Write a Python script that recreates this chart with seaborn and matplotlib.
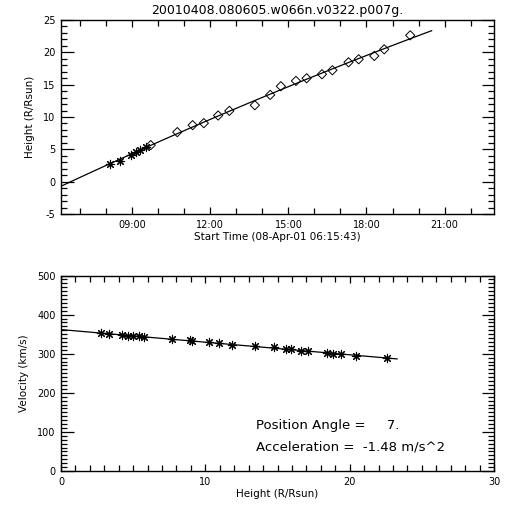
import numpy as np
import pandas as pd
import matplotlib
matplotlib.use("Agg")
import matplotlib.pyplot as plt
from matplotlib.ticker import MultipleLocator, FixedLocator
import seaborn as sns

# ---- data ----
title = "20010408.080605.w066n.v0322.p007g."
# height-time: times in decimal hours on 08-Apr-01
star_time = [8.15, 8.53, 8.94, 9.13, 9.30, 9.51]
star_height = [2.77, 3.23, 4.16, 4.57, 4.95, 5.34]
dia_time = [9.71, 10.73, 11.32, 11.75, 12.30, 12.73, 13.71, 14.30, 14.71, 15.29,
            15.70, 16.29, 16.69, 17.31, 17.70, 18.30, 18.68, 19.68]
dia_height = [5.65, 7.66, 8.74, 9.05, 10.23, 10.95, 11.82, 13.42, 14.76, 15.58,
              15.99, 16.61, 17.23, 18.46, 18.93, 19.44, 20.47, 22.63]
fit_time_range = [6.262, 20.51]

# velocity-height
vel_height = [2.76, 3.34, 4.26, 4.63, 5.02, 5.37, 5.74, 7.72, 8.92, 9.10, 10.25,
              10.94, 11.82, 13.43, 14.79, 15.58, 15.92, 16.64, 17.14, 18.43,
              18.82, 19.40, 20.46, 22.60]
velocity = [352, 351, 347, 345, 345, 345, 343, 338, 334, 333, 329, 328, 322,
            319, 316, 311, 311, 308, 307, 303, 300, 298, 294, 289]
vfit_height_range = [0.0, 23.3]

time_ticks = [9, 12, 15, 18, 21]
time_tick_labels = ["09:00", "12:00", "15:00", "18:00", "21:00"]
xlabel_top = "Start Time (08-Apr-01 06:15:43)"
ylabel_top = "Height (R/Rsun)"
xlabel_bot = "Height (R/Rsun)"
ylabel_bot = "Velocity (km/s)"
annot = ["Position Angle =     7.", "Acceleration =  -1.48 m/s^2"]

# ---- figure ----
sns.set_style("ticks")
plt.rcParams["font.family"] = ["DejaVu Sans"]
plt.rcParams.update({"text.color": "black", "axes.labelcolor": "black",
                     "xtick.color": "black", "ytick.color": "black",
                     "axes.edgecolor": "black", "axes.unicode_minus": False})
fig = plt.figure(figsize=(5.12, 5.12), dpi=100)
ax1 = fig.add_axes([61/512, 1-214/512, 433/512, 194/512])
ax2 = fig.add_axes([61/512, 1-471/512, 433/512, 195.5/512])

# top panel: height-time with quadratic fit
all_t = np.array(star_time + dia_time)
all_h = np.array(star_height + dia_height)
coef = np.polyfit(all_t, all_h, 2)
tf = np.linspace(fit_time_range[0], fit_time_range[1], 100)
sns.lineplot(x=tf, y=np.polyval(coef, tf), ax=ax1, color="black", lw=0.9,
             sort=False, estimator=None)
sns.scatterplot(x=star_time, y=star_height, ax=ax1, marker=(8, 2, 0), s=36,
                color="black", linewidth=0.8)
sns.scatterplot(x=dia_time, y=dia_height, ax=ax1, marker="D", s=22,
                facecolor="none", edgecolor="black", linewidth=0.7)
ax1.set_xlim(6.262, 22.9)
ax1.set_ylim(-5, 25)
ax1.xaxis.set_major_locator(FixedLocator(time_ticks))
ax1.set_xticklabels(time_tick_labels)
ax1.xaxis.set_minor_locator(MultipleLocator(1))
ax1.yaxis.set_major_locator(MultipleLocator(5))
ax1.yaxis.set_minor_locator(MultipleLocator(1))
ax1.set_xlabel(xlabel_top, fontsize=7.5, labelpad=2)
ax1.set_ylabel(ylabel_top, fontsize=7.5, labelpad=6)
ax1.set_title(title, fontsize=9, pad=4)

# bottom panel: velocity-height with linear fit
vc = np.polyfit(vel_height, velocity, 1)
hf = np.linspace(vfit_height_range[0], vfit_height_range[1], 50)
sns.lineplot(x=hf, y=np.polyval(vc, hf), ax=ax2, color="black", lw=0.9,
             sort=False, estimator=None)
sns.scatterplot(x=vel_height, y=velocity, ax=ax2, marker=(8, 2, 0), s=36,
                color="black", linewidth=0.8)
ax2.set_xlim(0, 30)
ax2.set_ylim(0, 500)
ax2.xaxis.set_major_locator(MultipleLocator(10))
ax2.xaxis.set_minor_locator(MultipleLocator(1))
ax2.yaxis.set_major_locator(MultipleLocator(100))
ax2.yaxis.set_minor_locator(MultipleLocator(10))
ax2.set_xlabel(xlabel_bot, fontsize=7.5, labelpad=2)
ax2.set_ylabel(ylabel_bot, fontsize=7.5, labelpad=6)
for i, s in enumerate(annot):
    fig.text(256/512, 1-(426 + 21*i)/512, s, fontsize=9.5, va="center", ha="left")

for ax in (ax1, ax2):
    for sp in ax.spines.values():
        sp.set_linewidth(1.0)
        sp.set_visible(True)
    ax.tick_params(which="both", direction="in", top=True, right=True,
                   labelsize=7, width=0.9, pad=4)
    ax.tick_params(axis="y", which="major", length=9)
    ax.tick_params(axis="y", which="minor", length=4.5)
    ax.tick_params(axis="x", which="major", length=5)
    ax.tick_params(axis="x", which="minor", length=4)

fig.savefig("out.png", dpi=100, facecolor="white")
